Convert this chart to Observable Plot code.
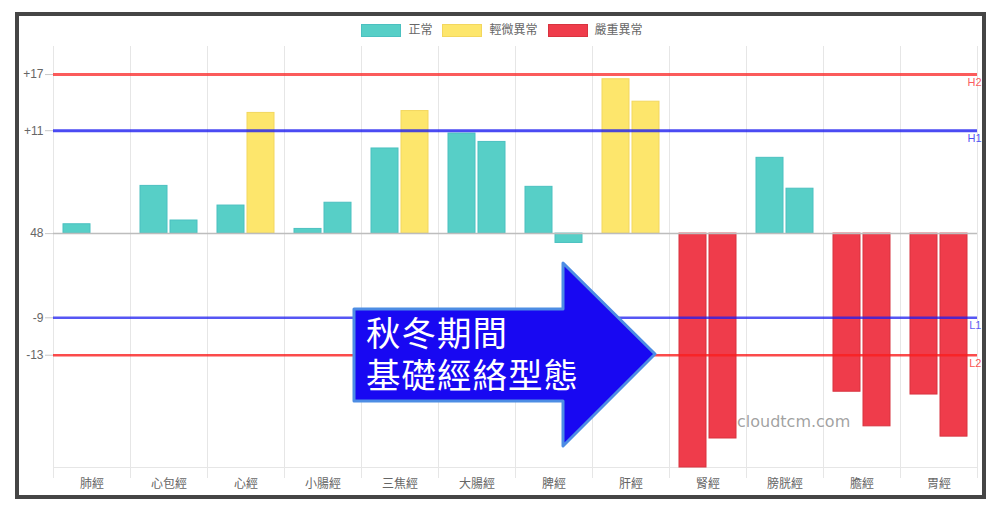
<!DOCTYPE html>
<html>
<head>
<meta charset="utf-8">
<script src="https://cdn.jsdelivr.net/npm/d3@7"></script>
<script src="https://cdn.jsdelivr.net/npm/@observablehq/plot@0.6"></script>
<style>
  body { margin: 0; background: #fff; }
  #wrap { position: relative; width: 1000px; height: 514px; overflow: hidden;
          font-family: "Liberation Sans", "Noto Sans CJK TC", sans-serif; }
  #chart { position: absolute; left: 0; top: 0; }
  #border { position: absolute; left: 15px; top: 12px; width: 971px; height: 487px;
            box-sizing: border-box; border: 4px solid #454545; pointer-events: none; }
  #legend { position: absolute; top: 23px; left: 2px; width: 1000px; display: flex;
            justify-content: center; font-size: 12px; color: #666; line-height: 14px; }
  .item { display: flex; align-items: center; margin: 0 5px; }
  .box { width: 38px; height: 11px; border: 1px solid; margin-right: 7px; }
  #overlay { position: absolute; left: 0; top: 0; pointer-events: none; }
</style>
</head>
<body>
<div id="wrap">
  <div id="chart"></div>
  <div id="legend"></div>
  <svg id="overlay" width="1000" height="514"></svg>
  <div id="border"></div>
</div>
<script>
// ---- data ----
const categories = ["肺經","心包經","心經","小腸經","三焦經","大腸經","脾經","肝經","腎經","膀胱經","膽經","胃經"];
const firstValues  = [1, 5.1, 3, 0.5, 9.1, 10.7, 5, 16.5, -25, 8.1, -16.9, -17.2];
const secondValues = [null, 1.4, 12.9, 3.3, 13.1, 9.8, -1, 14.1, -21.9, 4.8, -20.6, -21.7];
const firstStatus  = ["正常","正常","正常","正常","正常","正常","正常","輕微異常","嚴重異常","正常","嚴重異常","嚴重異常"];
const secondStatus = ["正常","正常","輕微異常","正常","輕微異常","正常","正常","輕微異常","嚴重異常","正常","嚴重異常","嚴重異常"];
const statuses = ["正常","輕微異常","嚴重異常"];
const yTicks = [17, 11, 0, -9, -13];
const yTickLabels = ["+17", "+11", "48", "-9", "-13"];
const thresholdValues = [17, 11, -9, -13];
const thresholdLabels = ["H2", "H1", "L1", "L2"];
const arrowLines = ["秋冬期間", "基礎經絡型態"];
const watermark = "cloudtcm.com";

// ---- styles ----
const fillColor   = {"正常": "#57cfc7", "輕微異常": "#fde66c", "嚴重異常": "#ef3c4b"};
const strokeColor = {"正常": "#4bc0c0", "輕微異常": "#f3d75e", "嚴重異常": "#d8333f"};
const lineColor = {H2: "rgba(250,50,50,0.8)", H1: "rgba(30,30,240,0.8)", L1: "rgba(30,30,240,0.75)", L2: "rgba(250,30,30,0.8)"};
const lineWidth = {H2: 3, H1: 3, L1: 2.5, L2: 2.5};
const font = '"Liberation Sans", "Noto Sans CJK TC", sans-serif';

const rows = [];
categories.forEach((c, i) => {
  rows.push({cat: c, slot: "a", value: firstValues[i], status: firstStatus[i]});
  rows.push({cat: c, slot: "b", value: secondValues[i], status: secondStatus[i]});
});
const bars = rows.filter(d => d.value != null);
const lines = thresholdValues.map((v, i) => ({value: v, label: thresholdLabels[i], cat: categories[categories.length - 1]}));

const grid = "#e6e6e6";
const plot = Plot.plot({
  width: 1000, height: 514,
  marginLeft: 52, marginRight: 22, marginTop: 46, marginBottom: 47,
  style: {fontFamily: font, fontSize: "12px", color: "#666", background: "transparent"},
  fx: {domain: categories, padding: 0, label: null, axis: "bottom", tickSize: 0, tickPadding: 12},
  x: {domain: ["a", "b"], paddingInner: 0.1, paddingOuter: 0.3, axis: null},
  y: {domain: [-25, 20], axis: null},
  marks: [
    Plot.axisY({ticks: yTicks, tickFormat: d => yTickLabels[yTicks.indexOf(d)],
      tickSize: 8, tickPadding: 2, label: null, stroke: "#c8c8c8", fill: "#666", fontSize: 12}),
    Plot.frame({anchor: "left", stroke: grid, insetBottom: -10}),
    Plot.frame({anchor: "right", stroke: grid, insetBottom: -10}),
    Plot.ruleY([-25], {stroke: grid}),
    ...statuses.map(s => Plot.barY(bars.filter(d => d.status === s), {
      fx: "cat", x: "slot", y: "value", fill: fillColor[s], stroke: strokeColor[s], strokeWidth: 1
    })),
    Plot.ruleY([0], {stroke: "#bdbdbd", strokeWidth: 1.5}),
    ...lines.map(d => Plot.ruleY([d], {y: "value", stroke: lineColor[d.label], strokeWidth: lineWidth[d.label]})),
    ...lines.map(d => Plot.text([d], {fx: "cat", y: "value", text: "label", frameAnchor: "right",
      textAnchor: "end", dx: 4, dy: 8, fill: lineColor[d.label], fontSize: 11}))
  ]
});
document.getElementById("chart").appendChild(plot);

// legend
const legend = document.getElementById("legend");
statuses.forEach(s => {
  const it = document.createElement("div");
  it.className = "item";
  it.innerHTML = `<span class="box" style="background:${fillColor[s]};border-color:${strokeColor[s]}"></span><span>${s}</span>`;
  legend.appendChild(it);
});

// annotation overlay (arrow + watermark)
const svg = d3.select("#overlay");
svg.append("text").attr("x", 737).attr("y", 427)
  .attr("font-family", '"DejaVu Sans", sans-serif').attr("font-size", 16)
  .attr("fill", "rgba(130,130,130,0.75)").text(watermark);
svg.append("polygon")
  .attr("points", "354,309 563,309 563,263 655,354 563,446 563,401 354,401")
  .attr("fill", "#1808f2").attr("stroke", "#4d8de4").attr("stroke-width", 3)
  .attr("stroke-linejoin", "round");
const arrowText = svg.append("text").attr("x", 366).attr("y", 346)
  .attr("font-family", '"Noto Sans CJK TC", sans-serif').attr("font-size", 34.5)
  .attr("letter-spacing", 1)
  .attr("fill", "#fff");
arrowLines.forEach((t, i) => {
  arrowText.append("tspan").attr("x", 366).attr("dy", i === 0 ? 0 : 42).text(t);
});
</script>
</body>
</html>
